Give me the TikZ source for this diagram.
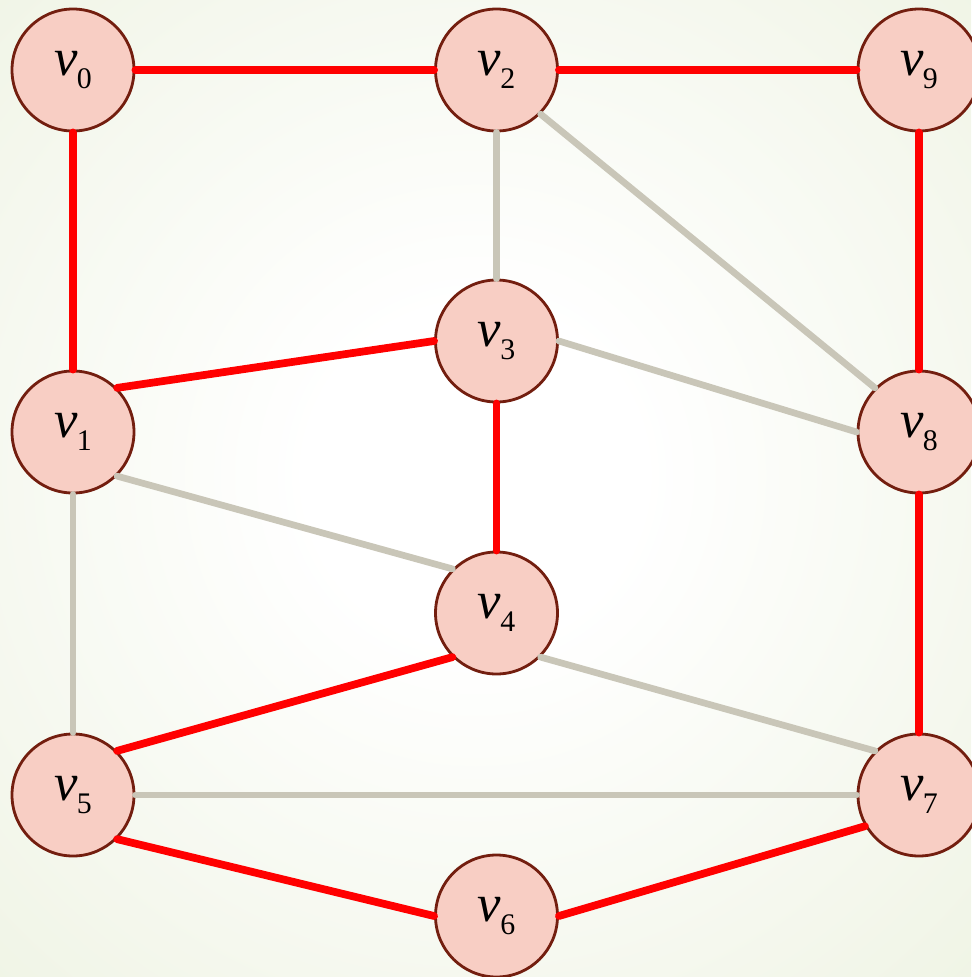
\documentclass[tikz,border=0pt]{standalone}
\usepackage{fontspec}
\setmainfont{Liberation Serif}
\usetikzlibrary{shadings}
\definecolor{paper}{RGB}{224,233,203}
\definecolor{blush}{RGB}{248,206,196}
\definecolor{rust}{RGB}{115,30,15}
\definecolor{hot}{RGB}{255,0,0}
\definecolor{stone}{RGB}{201,198,184}
\pgfdeclareradialshading{glow}{\pgfpoint{0bp}{0bp}}{%
  color(0bp)=(white); color(6bp)=(white); color(46bp)=(paper); color(71bp)=(paper)}
\newcommand{\vname}[1]{\textit{v}\kern-0.5pt\raisebox{-7.4pt}{\fontsize{17}{17}\selectfont #1}}
\tikzset{
  vert/.style={circle,draw=rust,fill=blush,line width=1.6pt,minimum size=2.44cm,
    inner sep=0pt,font=\fontsize{30}{30}\selectfont},
  redge/.style={draw=hot,line width=4.4pt,line cap=round},
  gedge/.style={draw=stone,line width=3.8pt,line cap=round},
}
\begin{document}
\begin{tikzpicture}
  \useasboundingbox (0,0) rectangle (19.42,-19.54);
  % background
  \begin{scope}
    \clip (0,0) rectangle (19.42,-19.54);
    \shade[shading=glow] (9.5-13.8,-9.5-13.8) rectangle (9.5+13.8,-9.5+13.8);
  \end{scope}
  % vertices
  \foreach \n/\x/\y in {0/1.46/-1.40, 2/9.93/-1.40, 9/18.38/-1.40,
      3/9.93/-6.82, 1/1.46/-8.64, 8/18.38/-8.64,
      4/9.93/-12.26, 5/1.46/-15.90, 7/18.38/-15.90, 6/9.93/-18.32}
    \node[vert] (v\n) at (\x,\y) {\vname{\n}};
  % edges
  \foreach \a/\b in {v2.south/v3.north, v2.south east/v8.north west, v3.east/v8.west,
      v1.south east/v4.north west, v1.south/v5.north, v4.south east/v7.north west, v5.east/v7.west}
    \draw[gedge] (\a) -- (\b);
  \foreach \a/\b in {v0.east/v2.west, v2.east/v9.west, v0.south/v1.north, v9.south/v8.north,
      v1.north east/v3.west, v3.south/v4.north, v8.south/v7.north, v4.south west/v5.north east,
      v5.south east/v6.west, v6.east/v7.210}
    \draw[redge] (\a) -- (\b);
\end{tikzpicture}
\end{document}
